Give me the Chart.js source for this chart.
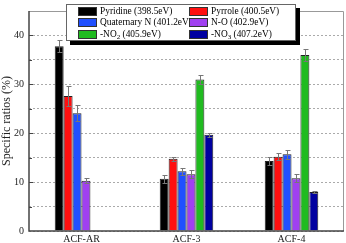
<!DOCTYPE html>
<html>
<head>
<meta charset="utf-8">
<script src="https://cdn.jsdelivr.net/npm/chart.js@4"></script>
<style>
  html, body { margin: 0; padding: 0; background: #fff; }
  #wrap { position: relative; width: 346px; height: 243px; }
  #legend {
    position: absolute; left: 66px; top: 4px; width: 228px; height: 35px;
    background: #fff; border: 1px solid #666; box-shadow: 4px 4px 0 #000;
    font: 9.4px "Liberation Serif", serif; color: #000;
  }
  .item { position: absolute; height: 11px; line-height: 11px; white-space: nowrap; }
  .sw { position: absolute; left: 0; top: 1px; width: 19px; height: 9px; border: 1px solid #333; box-sizing: border-box; }
  .txt { position: absolute; left: 22px; top: 0; }
  sub { font-size: 7px; vertical-align: -2px; line-height: 0; }
</style>
</head>
<body>
<div id="wrap">
  <canvas id="myChart" width="346" height="243"></canvas>
  <div id="legend"></div>
</div>
<script>
// data
const groups = ['ACF-AR', 'ACF-3', 'ACF-4'];

const seriesNames = ['Pyridine (398.5eV)', 'Pyrrole (400.5eV)', 'Quaternary N (401.2eV)',
  'N-O (402.9eV)', '-NO<sub>2</sub> (405.9eV)', '-NO<sub>3</sub> (407.2eV)'];
const seriesColors = ['#000000', '#ff1010', '#2050ff', '#a040f0', '#20bb20', '#0000a0'];

const pyridine = [37.8, 10.7, 14.3];
const pyrrole = [27.6, 14.8, 15.2];
const quaternary = [24.1, 12.2, 15.7];
const nitrogenOxide = [10.3, 11.6, 10.8];
const no2 = [null, 31.0, 36.0];
const no3 = [null, 19.7, 8.0];

const pyridineErr = [1.2, 0.8, 0.8];
const pyrroleErr = [2.1, 0.4, 0.7];
const quaternaryErr = [1.6, 0.7, 0.9];
const nitrogenOxideErr = [0.5, 0.8, 0.8];
const no2Err = [null, 0.9, 1.2];
const no3Err = [null, 0.4, 0.2];

const values = [pyridine, pyrrole, quaternary, nitrogenOxide, no2, no3];
const errors = [pyridineErr, pyrroleErr, quaternaryErr, nitrogenOxideErr, no2Err, no3Err];

const datasets = values.map((v, i) => ({
  label: seriesNames[i].replace(/<\/?sub>/g, ''),
  data: v,
  errors: errors[i],
  backgroundColor: seriesColors[i],
  borderColor: '#222',
  borderWidth: 1,
  barPercentage: 1,
  categoryPercentage: 0.51
}));

// html legend, two columns
const legend = document.getElementById('legend');
seriesNames.forEach((name, i) => {
  const col = i % 2, row = Math.floor(i / 2);
  const el = document.createElement('div');
  el.className = 'item';
  el.style.left = (col === 0 ? 11 : 122) + 'px';
  el.style.top = (1 + row * 11.3) + 'px';
  el.innerHTML = '<span class="sw" style="background:' + seriesColors[i] + '"></span><span class="txt">' + name + '</span>';
  legend.appendChild(el);
});

const errorBars = {
  id: 'errorBars',
  afterDatasetsDraw(chart) {
    const ctx = chart.ctx;
    const y = chart.scales.y;
    ctx.save();
    ctx.strokeStyle = '#777';
    ctx.lineWidth = 1;
    chart.data.datasets.forEach((ds, i) => {
      const meta = chart.getDatasetMeta(i);
      meta.data.forEach((bar, j) => {
        const v = ds.data[j], e = ds.errors[j];
        if (v == null || e == null) return;
        const x = Math.round(bar.x) + 0.5;
        const top = Math.round(y.getPixelForValue(v + e)) + 0.5;
        const bot = Math.round(y.getPixelForValue(v - e)) + 0.5;
        ctx.beginPath();
        ctx.moveTo(x, top); ctx.lineTo(x, bot);
        ctx.moveTo(x - 2, top); ctx.lineTo(x + 3, top);
        ctx.moveTo(x - 2, bot); ctx.lineTo(x + 3, bot);
        ctx.stroke();
      });
    });
    ctx.restore();
  }
};

// frame and inner tick marks
const frame = {
  id: 'frame',
  afterDraw(chart) {
    const ctx = chart.ctx;
    const a = chart.chartArea;
    const y = chart.scales.y;
    ctx.save();
    ctx.strokeStyle = '#999';
    ctx.lineWidth = 1;
    ctx.beginPath();
    ctx.moveTo(a.left, a.top + 0.5); ctx.lineTo(a.right - 0.5, a.top + 0.5); ctx.lineTo(a.right - 0.5, a.bottom);
    ctx.stroke();
    ctx.strokeStyle = '#444';
    ctx.lineWidth = 1.5;
    ctx.beginPath();
    ctx.moveTo(a.left, a.top); ctx.lineTo(a.left, a.bottom); ctx.lineTo(a.right, a.bottom);
    ctx.stroke();
    ctx.lineWidth = 1;
    y.ticks.forEach(t => {
      if (t.value === 0 || t.value === 45) return;
      const py = Math.round(y.getPixelForValue(t.value)) + 0.5;
      ctx.beginPath();
      ctx.moveTo(a.left, py); ctx.lineTo(a.left + (t.value % 10 === 0 ? 4 : 3), py);
      ctx.stroke();
    });
    ctx.restore();
  }
};

const config = {
  type: 'bar',
  data: { labels: groups, datasets: datasets },
  options: {
    responsive: false,
    animation: false,
    layout: { padding: { top: 1, right: 2, left: 0, bottom: 0 } },
    plugins: { legend: { display: false }, tooltip: { enabled: false } },
    scales: {
      x: {
        grid: { display: false, drawTicks: false },
        border: { display: false },
        ticks: { color: '#222', font: { family: 'Liberation Serif', size: 10 }, padding: 2 },
        afterFit(s) { s.height = 12; }
      },
      y: {
        min: 0, max: 45,
        grid: { color: '#aaa', drawTicks: false, lineWidth: 1 },
        border: { display: false, dash: [2, 2] },
        ticks: {
          stepSize: 5,
          padding: 5,
          color: '#222',
          font: { family: 'Liberation Serif', size: 10 },
          callback: v => (v % 10 === 0 ? v : '')
        },
        title: {
          display: true, text: 'Specific ratios (%)', color: '#222', padding: 0,
          font: { family: 'Liberation Serif', size: 12 }
        },
        afterFit(s) { s.width = 29; }
      }
    }
  },
  plugins: [errorBars, frame]
};

const myChart = new Chart(document.getElementById('myChart'), config);
</script>
</body>
</html>
